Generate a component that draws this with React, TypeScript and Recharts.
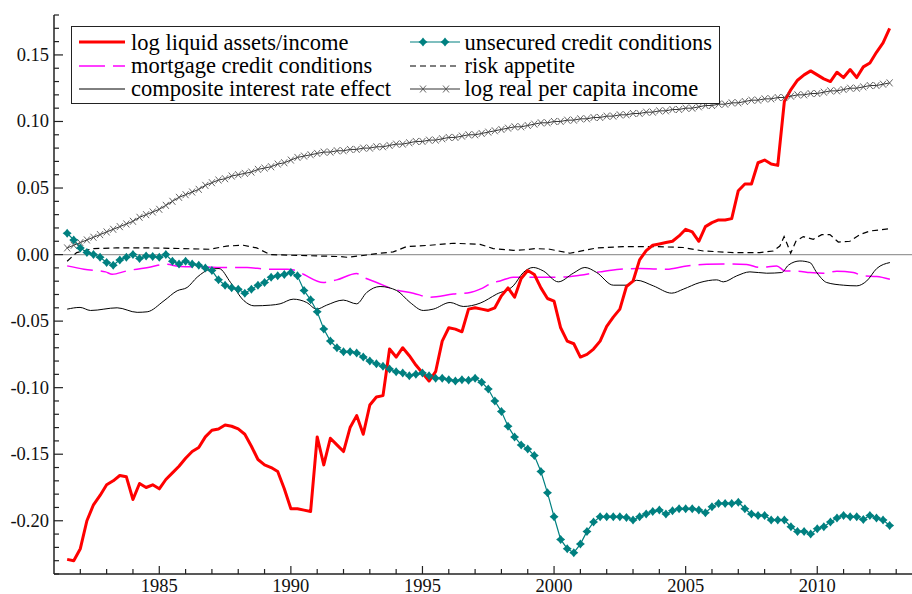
import React from 'react';
import { LineChart, Line, XAxis, YAxis, ReferenceLine, Legend } from 'recharts';

const FONT = '"Liberation Serif", "Times New Roman", serif';
const RED = '#ff0000';
const TEAL = '#008080';
const MAGENTA = '#ff00ff';
const INK = '#222';

// quarterly series, first quarter is 1981.5 (1981 Q3)
const startYear = 1981.5;

const liquidAssets = [
  -0.229, -0.23,
  -0.221, -0.2, -0.188, -0.181,
  -0.173, -0.17, -0.166, -0.167,
  -0.184, -0.172, -0.175, -0.173,
  -0.176, -0.169, -0.164, -0.159,
  -0.153, -0.148, -0.145, -0.137,
  -0.132, -0.131, -0.128, -0.129,
  -0.131, -0.135, -0.144, -0.154,
  -0.158, -0.16, -0.163, -0.176,
  -0.191, -0.191, -0.192, -0.193,
  -0.137, -0.158, -0.138, -0.143,
  -0.148, -0.13, -0.121, -0.135,
  -0.113, -0.107, -0.106, -0.071,
  -0.077, -0.07, -0.076, -0.083,
  -0.089, -0.095, -0.088, -0.065,
  -0.055, -0.056, -0.058, -0.041,
  -0.04, -0.041, -0.042, -0.04,
  -0.031, -0.025, -0.032, -0.018,
  -0.012, -0.015, -0.025, -0.033,
  -0.035, -0.055, -0.065, -0.067,
  -0.077, -0.075, -0.071, -0.065,
  -0.054, -0.047, -0.041, -0.024,
  -0.02, -0.004, 0.003, 0.007,
  0.008, 0.009, 0.01, 0.014,
  0.019, 0.017, 0.01, 0.021,
  0.024, 0.026, 0.026, 0.027,
  0.048, 0.053, 0.053, 0.069,
  0.071, 0.068, 0.067, 0.115,
  0.124, 0.131, 0.135, 0.138,
  0.135, 0.132, 0.13, 0.137,
  0.133, 0.139, 0.133, 0.141,
  0.144, 0.152, 0.159, 0.17,
];

const unsecuredCredit = [
  0.016, 0.011,
  0.005, 0.0015, 0.0, -0.002,
  -0.006, -0.008, -0.004, -0.002,
  0.0, -0.003, -0.001, -0.0015,
  -0.002, 0.0, -0.005, -0.007,
  -0.005, -0.007, -0.008, -0.01,
  -0.012, -0.019, -0.023, -0.025,
  -0.026, -0.029, -0.026, -0.023,
  -0.021, -0.017, -0.016, -0.015,
  -0.0135, -0.016, -0.027, -0.034,
  -0.043, -0.056, -0.065, -0.07,
  -0.073, -0.073, -0.074, -0.077,
  -0.08, -0.082, -0.084, -0.086,
  -0.088, -0.089, -0.091, -0.09,
  -0.089, -0.091, -0.093, -0.093,
  -0.094, -0.095, -0.094, -0.0945,
  -0.093, -0.096, -0.101, -0.11,
  -0.118, -0.129, -0.137, -0.143,
  -0.146, -0.151, -0.163, -0.179,
  -0.197, -0.214, -0.221, -0.224,
  -0.2175, -0.208, -0.201, -0.197,
  -0.197, -0.197, -0.197, -0.1975,
  -0.1995, -0.197, -0.195, -0.193,
  -0.192, -0.195, -0.1925, -0.191,
  -0.191, -0.191, -0.192, -0.194,
  -0.1895, -0.187, -0.187, -0.187,
  -0.186, -0.191, -0.195, -0.196,
  -0.196, -0.1995, -0.1995, -0.1995,
  -0.2045, -0.208, -0.208, -0.21,
  -0.206, -0.2045, -0.201, -0.198,
  -0.196, -0.197, -0.197, -0.199,
  -0.196, -0.198, -0.1995, -0.2035,
];

const realIncome = [
  0.005, 0.007,
  0.009, 0.011, 0.013, 0.015,
  0.017, 0.019, 0.021, 0.023,
  0.025, 0.028, 0.03, 0.032,
  0.034, 0.037, 0.04, 0.043,
  0.045, 0.047, 0.049, 0.052,
  0.054, 0.056, 0.057, 0.059,
  0.06, 0.061, 0.062, 0.064,
  0.065, 0.066, 0.068, 0.069,
  0.071, 0.073, 0.074, 0.075,
  0.076, 0.077, 0.077, 0.078,
  0.078, 0.079, 0.079, 0.08,
  0.08, 0.081, 0.081, 0.082,
  0.083, 0.083, 0.084, 0.085,
  0.085, 0.086, 0.086, 0.087,
  0.088, 0.088, 0.089, 0.09,
  0.09, 0.091, 0.092, 0.093,
  0.094, 0.095, 0.096, 0.096,
  0.097, 0.098, 0.099, 0.099,
  0.1, 0.1, 0.101, 0.101,
  0.102, 0.102, 0.103, 0.103,
  0.104, 0.104, 0.105, 0.105,
  0.106, 0.106, 0.107, 0.107,
  0.108, 0.108, 0.109, 0.109,
  0.11, 0.11, 0.111, 0.112,
  0.112, 0.113, 0.113, 0.114,
  0.114, 0.115, 0.116, 0.116,
  0.117, 0.117, 0.118, 0.118,
  0.119, 0.12, 0.12, 0.121,
  0.121, 0.122, 0.123, 0.123,
  0.124, 0.125, 0.125, 0.126,
  0.127, 0.127, 0.128, 0.129,
];

const quarters = liquidAssets.map((_, i) => startYear + i / 4);

// smoother series, read as [year, value]
const mortgageCredit: [number, number][] = [
  [1981.5, -0.0085], [1982.14, -0.011], [1982.96, -0.013], [1983.21, -0.0148], [1983.76, -0.0123],
  [1984.67, -0.0093], [1985.24, -0.0073], [1985.81, -0.009], [1986.7, -0.0093], [1987.58, -0.0097],
  [1988.34, -0.0097], [1989.1, -0.011], [1989.86, -0.011], [1990.2, -0.012], [1990.5, -0.015],
  [1991.23, -0.021], [1991.74, -0.019], [1992.5, -0.0142], [1992.75, -0.017], [1993.26, -0.021],
  [1993.89, -0.026], [1994.65, -0.029], [1995.29, -0.032], [1996.17, -0.0297], [1996.81, -0.0285],
  [1997.19, -0.026], [1997.69, -0.021], [1997.95, -0.0198], [1998.45, -0.017], [1999.47, -0.017],
  [2000.22, -0.017], [2000.98, -0.0155], [2001.74, -0.013], [2002.5, -0.011], [2003.26, -0.0105],
  [2004.28, -0.011], [2005.04, -0.0085], [2005.8, -0.0073], [2006.43, -0.007], [2007.32, -0.0075],
  [2007.82, -0.0097], [2008.46, -0.0085], [2008.77, -0.0123], [2009.28, -0.0125], [2009.72, -0.0135],
  [2010.23, -0.014], [2010.74, -0.0125], [2011.37, -0.0135], [2011.75, -0.016], [2012.26, -0.0165],
  [2012.76, -0.0185],
];

const riskAppetite: [number, number][] = [
  [1981.5, -0.005], [1981.86, 0.0015], [1982.5, 0.0045], [1983.38, 0.005], [1984.65, 0.005],
  [1985.91, 0.0045], [1986.93, 0.004], [1987.56, 0.0064], [1988.19, 0.007], [1988.7, 0.005],
  [1989.21, 0.0], [1989.97, -0.0005], [1990.98, -0.001], [1991.87, -0.0015], [1992.12, -0.002],
  [1992.63, -0.001], [1993.39, 0.001], [1993.89, 0.002], [1994.4, 0.006], [1995.29, 0.007],
  [1996.17, 0.0085], [1997.19, 0.0077], [1997.69, 0.0045], [1998.45, 0.0032], [1998.96, 0.0037],
  [1999.3, 0.0045], [1999.84, 0.004], [2000.6, 0.001], [2001.62, 0.005], [2002.63, 0.006],
  [2003.9, 0.006], [2004.91, 0.0053], [2005.67, 0.0027], [2006.81, 0.0015], [2007.82, 0.0015],
  [2008.33, 0.0027], [2008.58, 0.0064], [2008.74, 0.0135], [2008.86, 0.0077], [2008.99, 0.001],
  [2009.19, 0.01], [2009.47, 0.0135], [2009.85, 0.0115], [2010.17, 0.015], [2010.48, 0.015],
  [2010.8, 0.0094], [2011.24, 0.01], [2011.62, 0.015], [2012.0, 0.0177], [2012.76, 0.0195],
];

const interestRateEffect: [number, number][] = [
  [1981.5, -0.041], [1981.99, -0.0397], [1982.39, -0.042], [1983.4, -0.04], [1984.16, -0.0434],
  [1984.54, -0.043], [1985.18, -0.0347], [1985.68, -0.0272], [1986.06, -0.0247], [1986.44, -0.017],
  [1986.95, -0.011], [1987.27, -0.0105], [1987.71, -0.021], [1988.22, -0.0347], [1988.6, -0.0385],
  [1989.23, -0.038], [1989.59, -0.037], [1990.09, -0.0335], [1990.6, -0.036], [1990.98, -0.041],
  [1991.36, -0.038], [1991.99, -0.0342], [1992.5, -0.037], [1992.88, -0.0285], [1993.39, -0.024],
  [1994.02, -0.027], [1994.53, -0.036], [1995.03, -0.042], [1995.41, -0.041], [1996.05, -0.036],
  [1996.55, -0.039], [1997.19, -0.0365], [1997.82, -0.0297], [1998.45, -0.0235], [1998.83, -0.0135],
  [1999.21, -0.0097], [1999.59, -0.0123], [2000.16, -0.0205], [2000.73, -0.014], [2001.17, -0.0097],
  [2001.62, -0.0135], [2002.25, -0.023], [2002.76, -0.023], [2003.14, -0.0193], [2003.77, -0.0235],
  [2004.47, -0.029], [2004.91, -0.026], [2005.54, -0.021], [2006.18, -0.019], [2006.43, -0.0205],
  [2006.94, -0.016], [2007.44, -0.013], [2008.08, -0.014], [2008.65, -0.0135], [2008.9, -0.008],
  [2009.34, -0.0048], [2009.72, -0.006], [2009.98, -0.0135], [2010.36, -0.021], [2010.99, -0.023],
  [2011.5, -0.0235], [2011.88, -0.0198], [2012.26, -0.0105], [2012.76, -0.006],
];

const xDomain: [number, number] = [1981, 2013.6];
const yDomain: [number, number] = [-0.24, 0.18];
const xLabels = [1985, 1990, 1995, 2000, 2005, 2010];
const yLabels = [-0.2, -0.15, -0.1, -0.05, 0, 0.05, 0.1, 0.15];
// minor ticks every year / every 0.01
const xTicks = Array.from({ length: 32 }, (_, i) => 1982 + i);
const yTicks = Array.from({ length: 43 }, (_, i) => Math.round((-0.24 + i * 0.01) * 100) / 100);

const quarterly = quarters.map((t, i) => ({
  t,
  liquid: liquidAssets[i],
  unsecured: unsecuredCredit[i],
  income: realIncome[i],
}));
const toRows = (pts: [number, number][]) => pts.map(([t, v]) => ({ t, v }));

const starPath = (cx: number, cy: number, r = 4.5, q = 2) =>
  `M${cx},${cy - r}L${cx + q},${cy - q}L${cx + r},${cy}L${cx + q},${cy + q}L${cx},${cy + r}L${cx - q},${cy + q}L${cx - r},${cy}L${cx - q},${cy - q}Z`;
const crossPath = (cx: number, cy: number, w = 3, h = 3.5) =>
  `M${cx - w},${cy - h}L${cx + w},${cy + h}M${cx - w},${cy + h}L${cx + w},${cy - h}`;

const StarDot = (p: any) => {
  if (p.cx == null || p.cy == null) return <g key={`u${p.index}`} />;
  return <path key={`u${p.index}`} d={starPath(p.cx, p.cy)} fill={TEAL} />;
};
const CrossDot = (p: any) => {
  if (p.cx == null || p.cy == null) return <g key={`c${p.index}`} />;
  return <path key={`c${p.index}`} d={crossPath(p.cx, p.cy)} stroke="#555" strokeWidth={0.9} fill="none" />;
};

const labelStyle = { fontFamily: FONT, fontSize: 18.5 };

const YTick = (p: any) => {
  const v = p.payload.value;
  const major = yLabels.some((l) => Math.abs(l - v) < 1e-6);
  return (
    <g>
      <line x1={p.x} x2={p.x + (major ? 9 : 5)} y1={p.y} y2={p.y} stroke={INK} strokeWidth={1.2} />
      {major && (
        <text x={p.x - 5} y={p.y + 6} textAnchor="end" style={labelStyle} fill="#111">
          {v.toFixed(2)}
        </text>
      )}
    </g>
  );
};

const XTick = (p: any) => {
  const v = p.payload.value;
  const major = xLabels.includes(v);
  return (
    <g>
      <line x1={p.x} x2={p.x} y1={p.y} y2={p.y - (major ? 8 : 5)} stroke={INK} strokeWidth={1.2} />
      {major && (
        <text x={p.x} y={p.y + 17.5} textAnchor="middle" style={labelStyle} fill="#111">
          {v}
        </text>
      )}
    </g>
  );
};

const legendItems = [
  { label: 'log liquid assets/income', color: RED, width: 3, dash: undefined as string | undefined, marker: '' },
  { label: 'mortgage credit conditions', color: MAGENTA, width: 1.5, dash: '26 8', marker: '' },
  { label: 'composite interest rate effect', color: '#000', width: 1, dash: undefined, marker: '' },
  { label: 'unsecured credit conditions', color: TEAL, width: 1.2, dash: undefined, marker: 'star' },
  { label: 'risk appetite', color: '#000', width: 1.2, dash: '6 4', marker: '' },
  { label: 'log real per capita income', color: '#333', width: 1, dash: undefined, marker: 'cross' },
];

const LegendBox = () => (
  <div
    style={{
      width: 649,
      height: 78,
      border: '1.5px solid #222',
      background: '#fff',
      boxSizing: 'border-box',
      position: 'relative',
      fontFamily: FONT,
      fontSize: 22.5,
      color: '#000',
    }}
  >
    {legendItems.map((it, k) => {
      const col = k < 3 ? 0 : 1;
      const row = k % 3;
      const w = col ? 50 : 46;
      return (
        <div
          key={it.label}
          style={{
            position: 'absolute',
            left: col ? 337.5 : 6.5,
            top: 3.5 + row * 23.3,
            height: 23.5,
            display: 'flex',
            alignItems: 'center',
            whiteSpace: 'nowrap',
          }}
        >
          <svg width={w} height={12} style={{ overflow: 'visible' }}>
            <line x1={0} x2={w} y1={6} y2={6} stroke={it.color} strokeWidth={it.width} strokeDasharray={it.dash} />
            {it.marker === 'star' && [13, 35].map((m) => <path key={m} d={starPath(m, 6)} fill={TEAL} />)}
            {it.marker === 'cross' && (
              [13, 36].map((m) => <path key={m} d={crossPath(m, 6)} stroke="#555" strokeWidth={0.9} fill="none" />)
            )}
          </svg>
          <span style={{ marginLeft: col ? 5 : 6.5, lineHeight: '23.5px' }}>{it.label}</span>
        </div>
      );
    })}
  </div>
);

export default function App() {
  return (
    <div style={{ position: 'absolute', left: 0, top: 0, width: 912, height: 594, background: '#fff' }}>
      <LineChart width={912} height={594} data={quarterly} margin={{ top: 15, right: 0, bottom: 0, left: 0 }}>
        <XAxis
          dataKey="t"
          type="number"
          domain={xDomain}
          ticks={xTicks}
          interval={0}
          allowDataOverflow
          height={20}
          tickSize={0}
          tickMargin={0}
          tickLine={false}
          tick={(p: any) => <XTick {...p} />}
          axisLine={{ stroke: INK, strokeWidth: 1.5 }}
        />
        <YAxis
          type="number"
          domain={yDomain}
          ticks={yTicks}
          interval={0}
          allowDataOverflow
          width={54}
          tickSize={0}
          tickMargin={0}
          tickLine={false}
          tick={(p: any) => <YTick {...p} />}
          axisLine={{ stroke: INK, strokeWidth: 1.5 }}
        />
        <ReferenceLine y={0} stroke="#9a9a9a" strokeWidth={1.2} />
        <Line
          data={toRows(mortgageCredit)}
          dataKey="v"
          name="mortgage"
          type="monotone"
          stroke={MAGENTA}
          strokeWidth={1.5}
          strokeDasharray="26 8"
          dot={false}
          activeDot={false}
          isAnimationActive={false}
        />
        <Line
          data={toRows(riskAppetite)}
          dataKey="v"
          name="risk"
          type="linear"
          stroke="#000"
          strokeWidth={1.2}
          strokeDasharray="6 4"
          dot={false}
          activeDot={false}
          isAnimationActive={false}
        />
        <Line
          data={toRows(interestRateEffect)}
          dataKey="v"
          name="interest"
          type="monotone"
          stroke="#000"
          strokeWidth={1}
          dot={false}
          activeDot={false}
          isAnimationActive={false}
        />
        <Line
          dataKey="income"
          type="linear"
          stroke="#333"
          strokeWidth={1}
          dot={CrossDot}
          activeDot={false}
          isAnimationActive={false}
        />
        <Line
          dataKey="unsecured"
          type="linear"
          stroke={TEAL}
          strokeWidth={1.2}
          dot={StarDot}
          activeDot={false}
          isAnimationActive={false}
        />
        <Line
          dataKey="liquid"
          type="linear"
          stroke={RED}
          strokeWidth={3}
          strokeLinejoin="round"
          dot={false}
          activeDot={false}
          isAnimationActive={false}
        />
        <Legend
          layout="horizontal"
          verticalAlign="middle"
          align="center"
          wrapperStyle={{ top: 26, left: 71, width: 649 }}
          content={() => <LegendBox />}
        />
      </LineChart>
    </div>
  );
}
